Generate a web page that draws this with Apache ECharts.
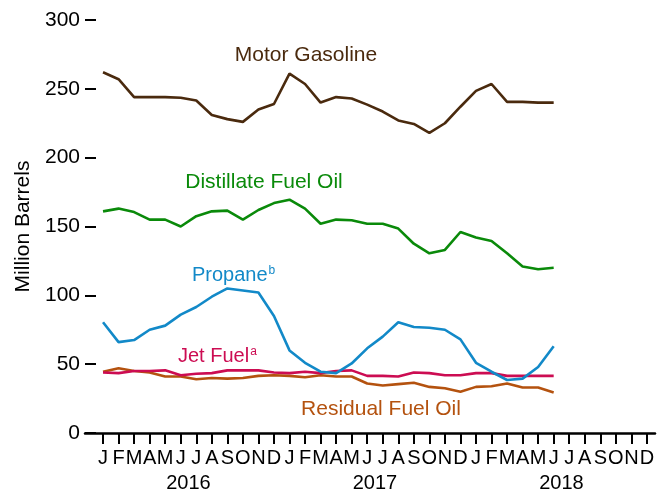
<!DOCTYPE html>
<html>
<head>
<meta charset="utf-8">
<script src="https://cdn.jsdelivr.net/npm/echarts@6/dist/echarts.min.js"></script>
<style>
  html, body { margin: 0; padding: 0; background: #fff; }
  #chart { width: 667px; height: 494px; }
</style>
</head>
<body>
<div id="chart"></div>
<script>
// month letters for 2016-2018, data runs Jan 2016 - Jun 2018
const monthLetters = ['J','F','M','A','M','J','J','A','S','O','N','D'];
const years = ['2016', '2017', '2018'];
const yTicks = [0, 50, 100, 150, 200, 250, 300];

const motorGasoline = [262, 257, 244, 244, 244, 243.5, 241.5, 231, 228, 226, 235, 239,
                       261, 253.5, 240, 244, 243, 238.5, 233.5, 227, 224.5, 218, 225, 237,
                       248.5, 253.5, 240.5, 240.5, 240, 240];
const distillate = [161, 163, 160.5, 155, 155, 150, 157.5, 161, 161.5, 155, 162, 167,
                    169.5, 163, 152, 155, 154.5, 152, 152, 148.5, 137.5, 130.5, 133, 146,
                    142, 139.5, 130.5, 121, 119, 120];
const propane = [80.5, 66, 67.5, 75, 78, 86, 91.5, 99, 105, 103.5, 102, 85,
                 60, 51, 44.5, 43.5, 50.5, 61.5, 70, 80.5, 77, 76.5, 75, 68,
                 51, 44.5, 38.5, 39.5, 48, 63];
const jetFuel = [44, 43.5, 45, 45, 45.5, 42, 43, 43.5, 45.5, 45.5, 45.5, 44,
                 43.5, 44.5, 43.5, 45, 45.5, 41.5, 41.5, 41, 44, 43.5, 42, 42,
                 43.5, 43.5, 41.5, 41.5, 41.5, 41.5];
const residual = [44.5, 47, 45, 44, 41, 41, 39, 40, 39.5, 40, 41.5, 42,
                  41.5, 40.5, 42, 41, 41, 36, 34.5, 35.5, 36.5, 33.5, 32.5, 30,
                  33.5, 34, 36, 33, 33, 29.5];

const allMonths = [];
years.forEach(function () { monthLetters.forEach(function (m) { allMonths.push(m); }); });
const tickIdx = allMonths.map(function (m, i) { return i; });

function pairs(arr) {
  return arr.map(function (v, i) { return [i, v]; });
}

const FONT = '"Liberation Sans", Arial, sans-serif';

function lineSeries(name, data, color) {
  return {
    name: name,
    type: 'line',
    data: pairs(data),
    showSymbol: false,
    symbol: 'none',
    lineStyle: { color: color, width: 2.6 },
    itemStyle: { color: color },
    z: 3
  };
}

const chart = echarts.init(document.getElementById('chart'));
chart.setOption({
  animation: false,
  backgroundColor: '#fff',
  grid: { left: 85, right: 12, top: 20, bottom: 61 },
  xAxis: [
    {
      type: 'value',
      min: -1.16,
      max: 35.52,
      splitLine: { show: false },
      axisLine: { show: true, onZero: false, lineStyle: { color: '#000', width: 2.5 } },
      axisTick: { show: true, customValues: tickIdx, length: 11, lineStyle: { color: '#000', width: 2 } },
      axisLabel: {
        customValues: tickIdx,
        margin: 15,
        color: '#000',
        fontFamily: FONT,
        fontSize: 20,
        formatter: function (v) { return allMonths[Math.round(v)] || ''; }
      }
    },
    {
      type: 'value',
      position: 'bottom',
      min: -1.16,
      max: 35.52,
      splitLine: { show: false },
      axisLine: { show: false, onZero: false },
      axisTick: { show: false },
      axisLabel: {
        customValues: [5.5, 17.5, 29.5],
        margin: 40,
        color: '#000',
        fontFamily: FONT,
        fontSize: 20,
        formatter: function (v) { return years[Math.floor(v / 12)]; }
      }
    }
  ],
  yAxis: {
    type: 'value',
    min: 0,
    max: 300,
    interval: 50,
    name: 'Million Barrels',
    nameLocation: 'middle',
    nameGap: 50,
    nameTextStyle: { color: '#000', fontFamily: FONT, fontSize: 21 },
    splitLine: { show: false },
    axisLine: { show: false, onZero: false },
    axisTick: { show: true, inside: true, length: 11, lineStyle: { color: '#000', width: 2 } },
    axisLabel: {
      customValues: yTicks,
      margin: 5,
      color: '#000',
      fontFamily: FONT,
      fontSize: 21
    }
  },
  series: [
    lineSeries('Residual Fuel Oil', residual, '#b4520f'),
    lineSeries('Jet Fuel', jetFuel, '#cc0c52'),
    lineSeries('Propane', propane, '#1289c8'),
    lineSeries('Distillate Fuel Oil', distillate, '#0a8a0a'),
    lineSeries('Motor Gasoline', motorGasoline, '#4a2a0e')
  ],
  graphic: [
    { type: 'text', x: 306, y: 55, style: { text: 'Motor Gasoline', fill: '#4a2a0e', font: '21px ' + FONT, align: 'center', verticalAlign: 'middle' } },
    { type: 'text', x: 264, y: 182, style: { text: 'Distillate Fuel Oil', fill: '#0a8a0a', font: '21px ' + FONT, align: 'center', verticalAlign: 'middle' } },
    { type: 'text', x: 192, y: 275, style: {
        text: '{m|Propane}{s|b}', fill: '#1289c8', align: 'left', verticalAlign: 'middle',
        rich: {
          m: { fontFamily: FONT, fontSize: 20, fill: '#1289c8' },
          s: { fontFamily: FONT, fontSize: 12, fontStyle: 'normal', fill: '#1289c8', verticalAlign: 'top', padding: [0, 0, 9, 1] }
        }
      } },
    { type: 'text', x: 178, y: 356, style: {
        text: '{m|Jet Fuel}{s|a}', fill: '#cc0c52', align: 'left', verticalAlign: 'middle',
        rich: {
          m: { fontFamily: FONT, fontSize: 20, fill: '#cc0c52' },
          s: { fontFamily: FONT, fontSize: 12, fontStyle: 'normal', fill: '#cc0c52', verticalAlign: 'top', padding: [0, 0, 9, 1] }
        }
      } },
    { type: 'text', x: 381, y: 409, style: { text: 'Residual Fuel Oil', fill: '#b4520f', font: '21px ' + FONT, align: 'center', verticalAlign: 'middle' } }
  ]
});
</script>
</body>
</html>
